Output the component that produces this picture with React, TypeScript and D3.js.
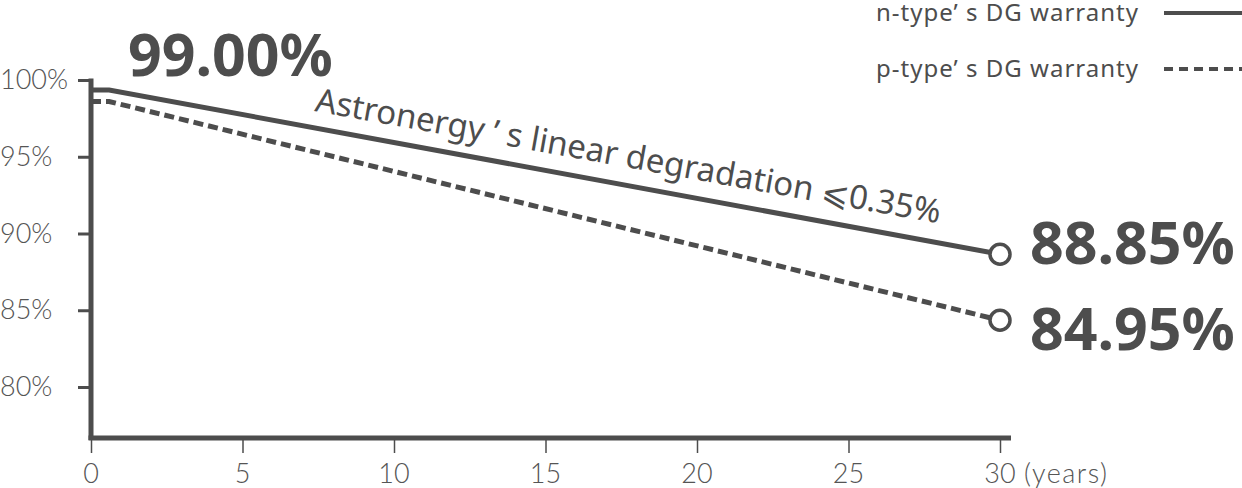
import React, { useEffect, useRef } from 'react';
import * as d3 from 'd3';

// values (years, % of nominal power)
const nTypeYears = [0, 0.6, 30];
const nTypeValues = [99.35, 99.35, 88.65];
const pTypeYears = [0, 0.6, 30];
const pTypeValues = [98.6, 98.6, 84.35];

const xTicks = [0, 5, 10, 15, 20, 25, 30];
const yTicks = [100, 95, 90, 85, 80];

const startLabel = '99.00%';
const nEndLabel = '88.85%';
const pEndLabel = '84.95%';
const legendLabels = ['n-type’ s DG warranty', 'p-type’ s DG warranty'];
const annotation = 'Astronergy ’ s linear degradation ⩽0.35%';

const W = 1242;
const H = 488;
const INK = '#4d4d4d';
const FONT = '"Noto Sans", "DejaVu Sans", sans-serif';
const LIGHT = 'Lato, "Noto Sans", sans-serif';

export default function App() {
  const svgRef = useRef<SVGSVGElement>(null);

  useEffect(() => {
    if (!svgRef.current) return;
    const svg = d3.select(svgRef.current);
    svg.selectAll('*').remove();

    const x = d3.scaleLinear().domain([0, 30]).range([91, 1000]);
    const y = d3.scaleLinear().domain([100, 80]).range([80, 387]);
    const yBottom = 438;

    const g = svg.append('g').attr('font-family', FONT);

    // Y axis
    const yAxis = d3.axisLeft(y).tickValues(yTicks).tickSize(13).tickFormat(() => '');
    g.append('g')
      .attr('transform', `translate(${x(0)},0)`)
      .call(yAxis)
      .call(s => s.select('.domain').remove())
      .call(s => s.selectAll('.tick line').attr('stroke', INK).attr('stroke-width', 3));

    g.append('line')
      .attr('x1', x(0)).attr('x2', x(0))
      .attr('y1', y(100) - 1.5).attr('y2', yBottom + 2)
      .attr('stroke', INK).attr('stroke-width', 5);

    g.append('g')
      .selectAll('text')
      .data(yTicks)
      .join('text')
      .attr('x', 0)
      .attr('y', d => y(d) + 9)
      .attr('font-family', LIGHT)
      .attr('font-size', 27)
      .attr('font-weight', 300)
      .attr('fill', '#555')
      .text(d => `${d}%`);

    // X axis
    const xAxis = d3.axisBottom(x).tickValues(xTicks).tickSize(15).tickFormat(() => '');
    g.append('g')
      .attr('transform', `translate(0,${yBottom})`)
      .call(xAxis)
      .call(s => s.select('.domain').remove())
      .call(s => s.selectAll('.tick line').attr('stroke', INK).attr('stroke-width', 1.5));

    g.append('line')
      .attr('x1', x(0) - 2.5).attr('x2', 1011)
      .attr('y1', yBottom).attr('y2', yBottom)
      .attr('stroke', INK).attr('stroke-width', 5);

    g.append('g')
      .selectAll('text')
      .data(xTicks)
      .join('text')
      .attr('x', d => x(d))
      .attr('y', 483)
      .attr('text-anchor', 'middle')
      .attr('font-family', LIGHT)
      .attr('font-size', 27)
      .attr('font-weight', 300)
      .attr('fill', '#555')
      .text(d => d);

    g.append('text')
      .attr('x', 1024)
      .attr('y', 483)
      .attr('font-family', LIGHT)
      .attr('font-size', 27)
      .attr('textLength', 83)
      .attr('font-weight', 300)
      .attr('fill', '#555')
      .text('(years)');

    // Lines
    const line = d3.line<[number, number]>()
      .x(d => x(d[0]))
      .y(d => y(d[1]));

    const nData = nTypeYears.map((t, i) => [t, nTypeValues[i]] as [number, number]);
    const pData = pTypeYears.map((t, i) => [t, pTypeValues[i]] as [number, number]);

    g.append('path')
      .datum(pData)
      .attr('d', line)
      .attr('fill', 'none')
      .attr('stroke', INK)
      .attr('stroke-width', 5)
      .attr('stroke-dasharray', '10,5');

    g.append('path')
      .datum(nData)
      .attr('d', line)
      .attr('fill', 'none')
      .attr('stroke', INK)
      .attr('stroke-width', 5);

    // end markers
    [nData[nData.length - 1], pData[pData.length - 1]].forEach(d => {
      g.append('circle')
        .attr('cx', x(d[0]))
        .attr('cy', y(d[1]))
        .attr('r', 10)
        .attr('fill', '#fff')
        .attr('stroke', INK)
        .attr('stroke-width', 3.5);
    });

    // value labels
    const big = (tx: number, ty: number, label: string) =>
      g.append('text')
        .attr('x', tx)
        .attr('y', ty)
        .attr('font-size', 59)
        .attr('font-weight', 700)
        .attr('fill', INK)
        .text(label);

    big(128, 76, startLabel);
    big(1030, 264, nEndLabel);
    big(1030, 350, pEndLabel);

    // annotation along the n-type line
    g.append('text')
      .attr('transform', 'translate(314,111) rotate(10.2)')
      .attr('font-size', 33)
      .attr('fill', INK)
      .text(annotation);

    // legend
    const legend = g.append('g');
    legendLabels.forEach((label, i) => {
      const ly = i === 0 ? 21 : 77;
      legend.append('text')
        .attr('x', 876)
        .attr('y', ly)
        .attr('font-size', 24)
        .attr('textLength', 262)
        .attr('lengthAdjust', 'spacing')
        .attr('fill', INK)
        .text(label);
      legend.append('line')
        .attr('x1', 1164).attr('x2', 1242)
        .attr('y1', ly - 8).attr('y2', ly - 8)
        .attr('stroke', INK)
        .attr('stroke-width', 4)
        .attr('stroke-dasharray', i === 0 ? null : '9,6');
    });
  }, []);

  return (
    <svg
      ref={svgRef}
      width={W}
      height={H}
      style={{ position: 'absolute', left: 0, top: 0, background: '#fff' }}
    />
  );
}
